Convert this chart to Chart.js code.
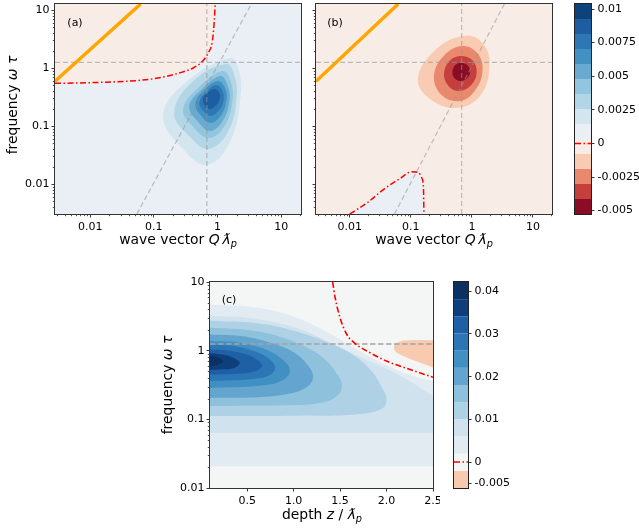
<!DOCTYPE html>
<html><head><meta charset="utf-8">
<script src="https://cdn.jsdelivr.net/npm/chart.js@4.4.1/dist/chart.umd.min.js"></script>
<style>
html,body{margin:0;padding:0;background:#fff;}
#wrap{position:relative;width:639px;height:529px;overflow:hidden;font-family:'DejaVu Sans',sans-serif;color:#000;}
canvas{position:absolute;}
.t{position:absolute;white-space:nowrap;line-height:1;font-size:13.9px;transform:translate(-50%,-50%);}
.rot{transform:translate(-50%,-50%) rotate(-90deg);}
.p{position:absolute;white-space:nowrap;line-height:1;font-size:11px;transform:translate(-50%,-50%);}
sub{font-size:70%;vertical-align:-0.3em;line-height:0;}
</style></head><body><div id="wrap">
<canvas id="ca" width="310" height="250" style="left:0px;top:0px"></canvas>
<canvas id="cb" width="260" height="250" style="left:300px;top:0px"></canvas>
<canvas id="cbarAB" width="74" height="230" style="left:565px;top:0px"></canvas>
<canvas id="cc" width="290" height="267" style="left:150px;top:262px"></canvas>
<canvas id="cbarC" width="90" height="267" style="left:440px;top:262px"></canvas>
<div class="t rot" style="left:13px;top:105px">frequency <i>ω</i> <i>τ</i></div>
<div class="t" style="left:178px;top:240px">wave vector <i>Q</i>&#8201;<i>ƛ</i><sub><i>p</i></sub></div>
<div class="t" style="left:434px;top:240px">wave vector <i>Q</i>&#8201;<i>ƛ</i><sub><i>p</i></sub></div>
<div class="t rot" style="left:168px;top:385px">frequency <i>ω</i> <i>τ</i></div>
<div class="t" style="left:322px;top:515px">depth <i>z</i> / <i>ƛ</i><sub><i>p</i></sub></div>
<div class="p" style="left:75px;top:22px">(a)</div>
<div class="p" style="left:335px;top:22px">(b)</div>
<div class="p" style="left:229px;top:299px">(c)</div>
</div>
<script>
// ---------- axis ranges and ticks ----------
const qMin = 0.0028, qMax = 20.5, wMin = 0.00304, wMax = 12.7;
const zMin = 0.1, zMax = 2.5, cwMin = 0.01, cwMax = 10;
const logTicks = [0.01, 0.1, 1, 10];
const logTickLabels = ['0.01', '0.1', '1', '10'];
const zTicks = [0.5, 1.0, 1.5, 2.0, 2.5];
const zTickLabels = ['0.5', '1.0', '1.5', '2.0', '2.5'];
const qMinor = [0.003,0.004,0.005,0.006,0.007,0.008,0.009,0.02,0.03,0.04,0.05,0.06,0.07,0.08,0.09,0.2,0.3,0.4,0.5,0.6,0.7,0.8,0.9,2,3,4,5,6,7,8,9,20];
const wMinor = [0.004,0.005,0.006,0.007,0.008,0.009,0.02,0.03,0.04,0.05,0.06,0.07,0.08,0.09,0.2,0.3,0.4,0.5,0.6,0.7,0.8,0.9,2,3,4,5,6,7,8,9];
const cwMinor = [0.02,0.03,0.04,0.05,0.06,0.07,0.08,0.09,0.2,0.3,0.4,0.5,0.6,0.7,0.8,0.9,2,3,4,5,6,7,8,9];

// ---------- colour bar levels ----------
const abLevels = [-0.00525,-0.004134,-0.003018,-0.001902,-0.000786,0.00033,0.001446,0.002562,0.003678,0.004794,0.00591,0.007026,0.008142,0.009258,0.010374];
const abColors = ['#8b0c25','#c53f3d','#e8896d','#f9cbb2','#f8ede6','#e9eff4','#d3e6f0','#b3d6e7','#92c5de','#69abd0','#4191c2','#2e77b5','#1d5ea2','#0e427a'];
const abTicks = [-0.005,-0.0025,0,0.0025,0.005,0.0075,0.01];
const abTickLabels = ['-0.005','-0.0025','0','0.0025','0.005','0.0075','0.01'];
const cLevels = [-0.00607,-0.00205,0.00197,0.00599,0.01001,0.01403,0.01805,0.02207,0.02609,0.03011,0.03413,0.03815,0.04217];
const cColors = ['#f8cbb0','#f4f5f5','#e3ebf2','#d0e2ee','#aed1e6','#8ec1dc','#63a5cf','#4190c4','#2d76b5','#1f5fa6','#0f3f7a','#0b3162'];
const cTicks = [-0.005,0,0.01,0.02,0.03,0.04];
const cTickLabels = ['-0.005','0','0.01','0.02','0.03','0.04'];

// ---------- reference lines (a),(b) ----------
const refQ = 0.68, refW = 1.25;
const diagLine = [[0.054, 0.00304], [3.4, 12.7]];
const orangeLine = [[0.0028, 0.59], [0.062, 12.7]];

// ---------- panel (a) contours (Q, ωτ) ----------
const zeroA = [[0.0028,0.545],[0.01,0.558],[0.1,0.654],[0.259,0.83],[0.42,1.01],[0.57,1.28],[0.72,1.84],[0.83,2.92],[0.89,6.46],[0.92,12.7]];
const ringA1 = [[0.139,0.149],[0.310,0.551],[1.54,1.49],[2.14,0.961],[2.30,0.329],[1.60,0.055],[0.692,0.0213],[0.288,0.0401]];
const ringA2 = [[0.208,0.168],[0.416,0.597],[1.38,1.17],[1.85,0.728],[1.99,0.292],[1.43,0.0757],[0.718,0.0401],[0.372,0.0646]];
const ringA3 = [[0.288,0.196],[0.536,0.490],[1.20,0.888],[1.60,0.597],[1.72,0.270],[1.29,0.100],[0.745,0.0621],[0.431,0.0924]];
const ringA4 = [[0.359,0.221],[0.598,0.452],[1.11,0.728],[1.43,0.509],[1.54,0.270],[1.20,0.122],[0.772,0.082],[0.499,0.117]];
const ringA5 = [[0.447,0.239],[0.644,0.435],[1.03,0.597],[1.33,0.435],[1.38,0.270],[1.11,0.149],[0.772,0.113],[0.556,0.149]];
const ringA6 = [[0.518,0.259],[0.692,0.401],[0.962,0.509],[1.20,0.401],[1.24,0.270],[1.03,0.181],[0.772,0.149],[0.598,0.181]];
const ringA7 = [[0.598,0.304],[0.718,0.386],[0.893,0.435],[1.07,0.371],[1.07,0.281],[0.927,0.221],[0.745,0.196],[0.621,0.230]];

// ---------- panel (b) contours ----------
const zeroB = [[0.01,0.00304],[0.0194,0.00476],[0.036,0.0081],[0.067,0.0125],[0.104,0.0163],[0.133,0.0158],[0.151,0.0128],[0.161,0.0086],[0.164,0.00304]];
const ringB1 = [[0.130,0.646],[0.274,2.21],[0.840,3.63],[1.58,2.49],[1.94,1.13],[1.47,0.371],[0.646,0.208],[0.228,0.270]];
const ringB2 = [[0.240,0.757],[0.369,1.74],[0.723,2.40],[1.22,1.81],[1.50,0.961],[1.17,0.435],[0.646,0.270],[0.318,0.342]];
const ringB3 = [[0.349,0.820],[0.445,1.37],[0.671,1.61],[1.01,1.37],[1.20,0.853],[0.975,0.509],[0.622,0.401],[0.413,0.490]];
const ringB4 = [[0.480,0.853],[0.536,1.13],[0.671,1.22],[0.840,1.13],[0.938,0.888],[0.840,0.673],[0.646,0.597],[0.516,0.673]];

// ---------- panel (c) contours (z, ωτ) ----------
const topC10 = [[0.1,4.67],[0.53,4.4],[0.89,3.5],[1.15,2.6],[1.4,1.75],[1.65,1.1],[1.95,0.66],[2.2,0.47],[2.5,0.36]];
const floorC10 = 0.0208;
const topC9 = [[0.1,3.22],[0.53,3.0],[0.96,2.3],[1.2,1.75],[1.45,1.2],[1.8,0.72],[2.14,0.44],[2.5,0.22]];
const floorC9 = 0.063;
const regC8 = [[0.1,2.72],[0.6,2.5],[1.0,1.95],[1.35,1.35],[1.62,0.9],[1.83,0.52],[1.95,0.29],[2.0,0.19],[1.94,0.14],[1.65,0.118],[1.0,0.113],[0.1,0.112]];
const regC7 = [[0.1,2.15],[0.5,2.0],[0.85,1.6],[1.15,1.1],[1.35,0.72],[1.47,0.45],[1.52,0.32],[1.47,0.22],[1.3,0.175],[0.9,0.16],[0.1,0.156]];
const regC6 = [[0.1,1.72],[0.45,1.62],[0.75,1.3],[1.0,0.95],[1.15,0.62],[1.21,0.42],[1.15,0.3],[0.95,0.235],[0.6,0.21],[0.1,0.205]];
const regC5 = [[0.1,1.38],[0.4,1.32],[0.65,1.1],[0.85,0.8],[0.96,0.52],[0.88,0.37],[0.65,0.31],[0.1,0.286]];
const regC4 = [[0.1,1.22],[0.35,1.17],[0.58,0.98],[0.74,0.75],[0.8,0.56],[0.73,0.43],[0.5,0.38],[0.1,0.362]];
const regC3 = [[0.1,1.04],[0.3,1.0],[0.5,0.87],[0.63,0.7],[0.66,0.6],[0.6,0.51],[0.4,0.46],[0.1,0.45]];
const regC2 = [[0.1,0.92],[0.25,0.87],[0.37,0.76],[0.42,0.66],[0.37,0.57],[0.25,0.535],[0.1,0.525]];
const regC1 = [[0.1,0.84],[0.18,0.8],[0.24,0.7],[0.18,0.62],[0.1,0.6]];
const negC = [[2.5,1.42],[2.25,1.42],[2.14,1.36],[2.085,1.2],[2.09,1.0],[2.16,0.86],[2.3,0.72],[2.5,0.57]];
const zeroC = [[1.42,10],[1.447,5.9],[1.50,3.0],[1.573,1.72],[1.663,1.27],[1.825,0.93],[2.005,0.70],[2.22,0.55],[2.5,0.41]];

// ---------- helpers ----------
const RED = '#ff0000', DASHDOT = [6, 2.5, 1.5, 2.5];
const GREYDASH = 'rgba(150,150,150,0.6)';
const toXY = pts => pts.map(p => ({x: p[0], y: p[1]}));
let ord = 1000;
function shape(pts, color, loop, tension) {
  return {data: toXY(pts), fill: 'shape', closedLoop: !!loop, backgroundColor: color, borderColor: 'rgba(0,0,0,0)', borderWidth: 0,
          pointRadius: 0, tension: tension === undefined ? 0.4 : tension, order: ord--};
}
function fillTo(pts, color, target) {
  return {data: toXY(pts), fill: target, backgroundColor: color, borderColor: 'rgba(0,0,0,0)', borderWidth: 0,
          pointRadius: 0, cubicInterpolationMode: 'monotone', order: ord--};
}
function line(pts, color, width, dash, smooth) {
  return {data: toXY(pts), fill: false, borderColor: color, borderWidth: width, borderDash: dash || [],
          pointRadius: 0, tension: 0, cubicInterpolationMode: smooth ? 'monotone' : 'default', borderCapStyle: 'butt', order: ord--};
}
function fitAxis(size) {
  return s => {
    if (s.isHorizontal()) s.height = size; else s.width = size;
    s.paddingLeft = s.paddingRight = s.paddingTop = s.paddingBottom = 0;
  };
}
function axis(type, pos, min, max, ticks, labels, showLabels, size, pad) {
  return {
    type, position: pos, min, max, bounds: 'data',
    afterBuildTicks: s => { s.ticks = ticks.map(v => ({value: v})); },
    afterFit: fitAxis(size),
    ticks: {display: showLabels, autoSkip: false, maxRotation: 0, minRotation: 0, padding: pad, color: '#000',
            font: {family: 'DejaVu Sans', size: 11},
            callback: v => { const i = ticks.indexOf(v); return i >= 0 ? labels[i] : ''; }},
    grid: {drawOnChartArea: false, drawTicks: true, tickLength: 3.5, tickColor: '#222', tickWidth: 0.9, color: '#222'},
    border: {display: false}
  };
}
// closed contour loops: let the line element join its last point back to the first smoothly
const loopPlugin = {
  id: 'closedLoops',
  afterDatasetUpdate(chart, args) {
    const ds = chart.data.datasets[args.index];
    if (ds && ds.closedLoop) { args.meta.dataset._loop = true; args.meta.dataset._fullLoop = true; }
  }
};
const areaPlugin = {
  id: 'areaDeco',
  beforeDatasetsDraw(chart, args, o) {
    if (!o.bg) return;
    const {ctx, chartArea: a} = chart;
    ctx.save(); ctx.fillStyle = o.bg; ctx.fillRect(a.left, a.top, a.right - a.left, a.bottom - a.top); ctx.restore();
  },
  afterDraw(chart, args, o) {
    const {ctx, chartArea: a} = chart;
    ctx.save();
    ctx.strokeStyle = '#222'; ctx.lineWidth = 0.8;
    if (o.minorX) {
      const s = chart.scales.x;
      for (const v of o.minorX) {
        const p = Math.round(s.getPixelForValue(v)) + 0.5;
        if (p < a.left || p > a.right) continue;
        ctx.beginPath(); ctx.moveTo(p, a.bottom); ctx.lineTo(p, a.bottom + 2.2); ctx.stroke();
      }
    }
    if (o.minorY) {
      const s = chart.scales.y;
      for (const v of o.minorY) {
        const p = Math.round(s.getPixelForValue(v)) + 0.5;
        if (p < a.top || p > a.bottom) continue;
        ctx.beginPath(); ctx.moveTo(a.left, p); ctx.lineTo(a.left - 2.2, p); ctx.stroke();
      }
    }
    ctx.strokeStyle = o.frame || '#333'; ctx.lineWidth = 1;
    ctx.strokeRect(a.left - 0.5, a.top - 0.5, a.right - a.left + 1, a.bottom - a.top + 1);
    ctx.restore();
  }
};
function makeChart(id, datasets, scales, padding, deco) {
  return new Chart(document.getElementById(id), {
    type: 'line',
    data: {datasets},
    options: {
      responsive: false, animation: false, events: [],
      layout: {padding},
      plugins: {legend: {display: false}, tooltip: {enabled: false}, areaDeco: deco},
      scales
    },
    plugins: [loopPlugin, areaPlugin]
  });
}

// ---------- panel (a) ----------
ord = 1000;
const dsA = [
  fillTo(zeroA, abColors[4], 'end'),
  shape(ringA1, abColors[6], true), shape(ringA2, abColors[7], true), shape(ringA3, abColors[8], true),
  shape(ringA4, abColors[9], true), shape(ringA5, abColors[10], true), shape(ringA6, abColors[11], true),
  shape(ringA7, abColors[12], true),
  line([[refQ, wMin], [refQ, wMax]], GREYDASH, 1.2, [5, 3]),
  line([[qMin, refW], [qMax, refW]], GREYDASH, 1.2, [5, 3]),
  line(diagLine, GREYDASH, 1.2, [5, 3]),
  line(orangeLine, '#ffa500', 3.5),
  line(zeroA, RED, 1.5, DASHDOT, true)
];
makeChart('ca', dsA, {
  x: axis('logarithmic', 'bottom', qMin, qMax, logTicks, logTickLabels, true, 36, 3),
  y: axis('logarithmic', 'left', wMin, wMax, logTicks, logTickLabels, true, 55, 2)
}, {left: 0, top: 4, right: 9, bottom: 0}, {bg: abColors[5], minorX: qMinor, minorY: wMinor});

// ---------- panel (b) ----------
ord = 1000;
const dsB = [
  fillTo(zeroB, abColors[5], 'start'),
  shape(ringB1, abColors[3], true), shape(ringB2, abColors[2], true), shape(ringB3, abColors[1], true),
  shape(ringB4, abColors[0], true),
  line([[refQ, wMin], [refQ, wMax]], GREYDASH, 1.2, [5, 3]),
  line([[qMin, refW], [qMax, refW]], GREYDASH, 1.2, [5, 3]),
  line(diagLine, GREYDASH, 1.2, [5, 3]),
  line(orangeLine, '#ffa500', 3.5),
  line(zeroB, RED, 1.5, DASHDOT, true)
];
makeChart('cb', dsB, {
  x: axis('logarithmic', 'bottom', qMin, qMax, logTicks, logTickLabels, true, 36, 3),
  y: axis('logarithmic', 'left', wMin, wMax, logTicks, logTickLabels, false, 16, 2)
}, {left: 0, top: 4, right: 8, bottom: 0}, {bg: abColors[4], minorX: qMinor, minorY: wMinor});

// ---------- colour bar (a),(b) ----------
ord = 1000;
const dsCbAB = abColors.map((c, i) => shape([[0, abLevels[i]], [1, abLevels[i]], [1, abLevels[i + 1]], [0, abLevels[i + 1]]], c, false, 0));
dsCbAB.push(line([[0, 0], [1, 0]], RED, 1.5, DASHDOT));
makeChart('cbarAB', dsCbAB, {
  x: {type: 'linear', min: 0, max: 1, display: false},
  y: axis('linear', 'right', abLevels[0], abLevels[abLevels.length - 1], abTicks, abTickLabels, true, 48, 3)
}, {left: 10, top: 4, right: 0, bottom: 16}, {frame: '#222'});

// ---------- panel (c) ----------
ord = 1000;
const dsC = [
  fillTo(topC10, cColors[2], {value: floorC10}),
  fillTo(topC9, cColors[3], {value: floorC9}),
  shape(regC8, cColors[4], false), shape(regC7, cColors[5], false), shape(regC6, cColors[6], false),
  shape(regC5, cColors[7], false), shape(regC4, cColors[8], false), shape(regC3, cColors[9], false),
  shape(regC2, cColors[10], false), shape(regC1, cColors[11], false),
  shape(negC, cColors[0], false),
  line([[zMin, refW], [zMax, refW]], '#a3a3a3', 1.6, [5.5, 2.5]),
  line(zeroC, RED, 1.6, DASHDOT, true)
];
makeChart('cc', dsC, {
  x: axis('linear', 'bottom', zMin, zMax, zTicks, zTickLabels, true, 41, 3),
  y: axis('logarithmic', 'left', cwMin, cwMax, logTicks, logTickLabels, true, 60, 2)
}, {left: 0, top: 20, right: 7, bottom: 0}, {bg: cColors[1], minorY: cwMinor});

// ---------- colour bar (c) ----------
ord = 1000;
const dsCbC = cColors.map((c, i) => shape([[0, cLevels[i]], [1, cLevels[i]], [1, cLevels[i + 1]], [0, cLevels[i + 1]]], c, false, 0));
dsCbC.push(line([[0, 0], [1, 0]], RED, 1.5, DASHDOT));
makeChart('cbarC', dsCbC, {
  x: {type: 'linear', min: 0, max: 1, display: false},
  y: axis('linear', 'right', cLevels[0], cLevels[cLevels.length - 1], cTicks, cTickLabels, true, 62, 3)
}, {left: 14, top: 20, right: 0, bottom: 41}, {frame: '#222'});
</script>
</body></html>
